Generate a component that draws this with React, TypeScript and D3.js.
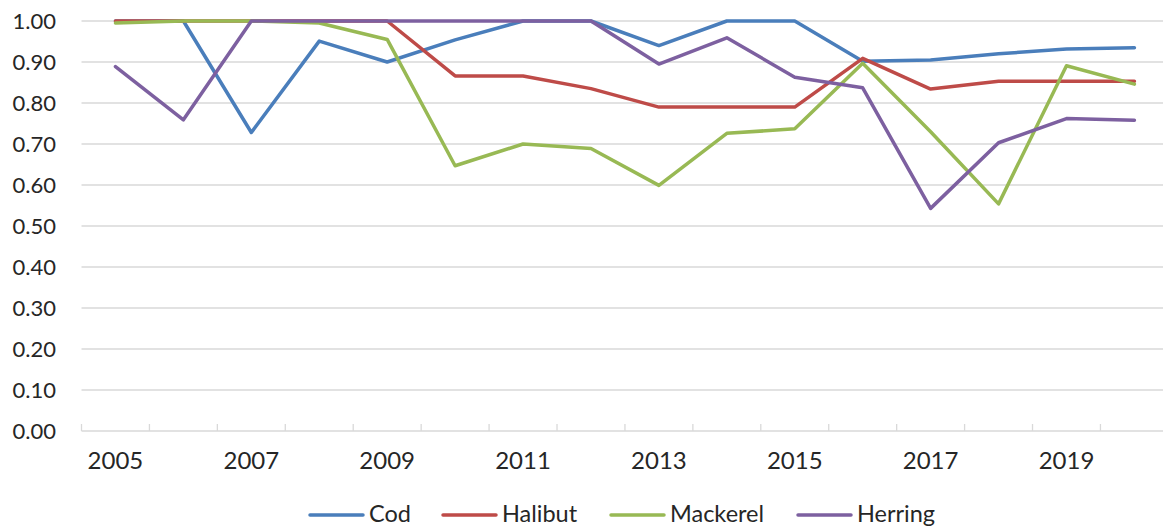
import { useEffect, useRef } from "react";
import * as d3 from "d3";

const years = [2005, 2006, 2007, 2008, 2009, 2010, 2011, 2012, 2013, 2014, 2015, 2016, 2017, 2018, 2019, 2020];

const cod = [1.0, 1.0, 0.728, 0.951, 0.9, 0.954, 1.0, 1.0, 0.94, 1.0, 1.0, 0.902, 0.905, 0.92, 0.932, 0.935];
const halibut = [1.0, 1.0, 1.0, 1.0, 1.0, 0.866, 0.866, 0.835, 0.79, 0.79, 0.79, 0.909, 0.834, 0.853, 0.853, 0.853];
const mackerel = [0.995, 1.0, 1.0, 0.995, 0.955, 0.647, 0.7, 0.689, 0.599, 0.726, 0.737, 0.897, 0.73, 0.554, 0.891, 0.846];
const herring = [0.889, 0.759, 1.0, 1.0, 1.0, 1.0, 1.0, 1.0, 0.895, 0.959, 0.863, 0.837, 0.543, 0.703, 0.762, 0.758];

const seriesNames = ["Cod", "Halibut", "Mackerel", "Herring"];
const seriesColors = ["#4a7ebb", "#be4b48", "#98b954", "#7d60a0"];
const yTicks = [0, 0.1, 0.2, 0.3, 0.4, 0.5, 0.6, 0.7, 0.8, 0.9, 1.0];
const xLabelYears = [2005, 2007, 2009, 2011, 2013, 2015, 2017, 2019];

const W = 1163;
const H = 528;
const FONT = "Lato, 'Open Sans', sans-serif";

export default function App() {
  const svgRef = useRef<SVGSVGElement>(null);

  useEffect(() => {
    if (!svgRef.current) return;
    const svg = d3.select(svgRef.current);
    svg.selectAll("*").remove();

    const left = 81.5;
    const step = 67.93;
    const right = left + step * years.length;
    const top = 21;
    const bottom = 431;

    const x = d3.scaleBand<number>().domain(years).range([left, right]).padding(0);
    const y = d3.scaleLinear().domain([0, 1]).range([bottom, top]);
    const cx = (yr: number) => (x(yr) || 0) + x.bandwidth() / 2;

    // gridlines
    svg.append("g")
      .selectAll("line")
      .data(yTicks.slice(1))
      .enter()
      .append("line")
      .attr("x1", left)
      .attr("x2", W)
      .attr("y1", (d) => y(d))
      .attr("y2", (d) => y(d))
      .attr("stroke", "#d9d9d9")
      .attr("stroke-width", 1.3);

    // x axis line + inside ticks
    svg.append("line")
      .attr("x1", left).attr("x2", W)
      .attr("y1", bottom).attr("y2", bottom)
      .attr("stroke", "#d9d9d9").attr("stroke-width", 1.3);

    const boundaries = [...years.map((yr) => x(yr) || 0), right];
    svg.append("g")
      .selectAll("line")
      .data(boundaries)
      .enter()
      .append("line")
      .attr("x1", (d) => d).attr("x2", (d) => d)
      .attr("y1", bottom - 7).attr("y2", bottom)
      .attr("stroke", "#d9d9d9").attr("stroke-width", 1.3);

    // y labels
    svg.append("g")
      .selectAll("text")
      .data(yTicks)
      .enter()
      .append("text")
      .attr("x", 56)
      .attr("y", (d) => y(d))
      .attr("dy", "0.36em")
      .attr("text-anchor", "end")
      .attr("font-family", FONT)
      .attr("font-size", 22)
      .attr("fill", "#262626")
      .text((d) => d.toFixed(2));

    // x labels
    svg.append("g")
      .selectAll("text")
      .data(xLabelYears)
      .enter()
      .append("text")
      .attr("x", (d) => cx(d))
      .attr("y", 460.5)
      .attr("dy", "0.36em")
      .attr("text-anchor", "middle")
      .attr("font-family", FONT)
      .attr("font-size", 24)
      .attr("fill", "#262626")
      .text((d) => String(d));

    // lines
    const data = [cod, halibut, mackerel, herring];
    const line = d3.line<number>()
      .x((_, i) => cx(years[i]))
      .y((d) => y(d));

    data.forEach((vals, i) => {
      svg.append("path")
        .datum(vals)
        .attr("d", line)
        .attr("fill", "none")
        .attr("stroke", seriesColors[i])
        .attr("stroke-width", 3.5)
        .attr("stroke-linejoin", "round")
        .attr("stroke-linecap", "round");
    });

    // legend
    const legendX = [310, 443, 611, 798];
    const legendY = 515;
    const lg = svg.append("g");
    seriesNames.forEach((name, i) => {
      lg.append("line")
        .attr("x1", legendX[i]).attr("x2", legendX[i] + 53)
        .attr("y1", legendY).attr("y2", legendY)
        .attr("stroke", seriesColors[i])
        .attr("stroke-width", 3.5)
        .attr("stroke-linecap", "round");
      lg.append("text")
        .attr("x", legendX[i] + 59)
        .attr("y", 514)
        .attr("dy", "0.36em")
        .attr("font-family", FONT)
        .attr("font-size", 23.5)
        .attr("fill", "#262626")
        .text(name);
    });
  }, []);

  return (
    <div style={{ position: "fixed", left: 0, top: 0, width: W, height: H, background: "#fff" }}>
      <svg ref={svgRef} width={W} height={H} style={{ display: "block" }} />
    </div>
  );
}
